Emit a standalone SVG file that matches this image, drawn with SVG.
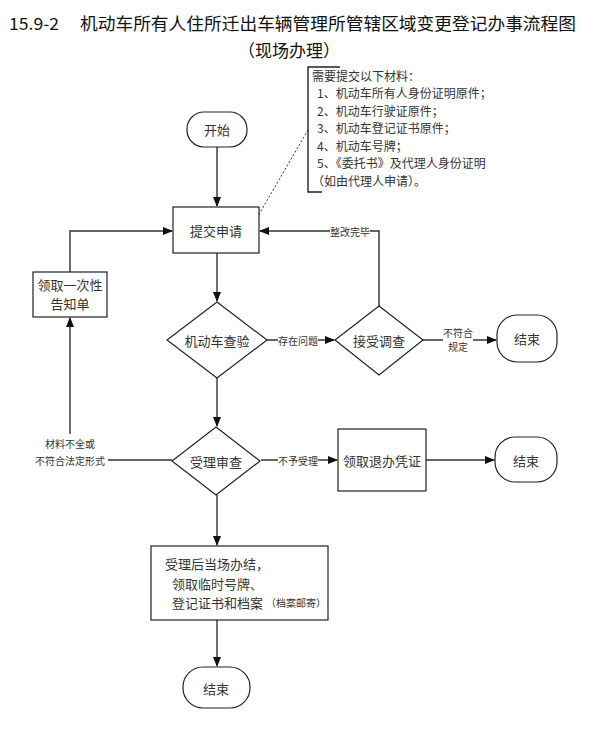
<svg xmlns="http://www.w3.org/2000/svg" width="599" height="730" viewBox="0 0 599 730">
<defs>
<marker id="ah" markerWidth="10" markerHeight="8" refX="9" refY="4" orient="auto" markerUnits="userSpaceOnUse">
<path d="M0,0 L10,4 L0,8 Z" fill="#111"/>
</marker>
<style>
.t{font-family:"Noto Sans CJK SC","Liberation Sans",sans-serif;fill:#333;font-size:13px;text-anchor:middle;dominant-baseline:central}
.s{font-size:10px}
.l{text-anchor:start}
.n{font-size:12px}
.shape{fill:#fff;stroke:#222;stroke-width:1.2}
.c{fill:none;stroke:#333;stroke-width:1.4}
.title{font-family:"Noto Sans CJK SC","Liberation Sans",sans-serif;fill:#111;font-size:17px}
.lbl{fill:#fff}
</style>
</defs>
<rect width="599" height="730" fill="#fff"/>
<g id="title">
<text class="title" x="9" y="30" textLength="50" lengthAdjust="spacingAndGlyphs">15.9-2</text>
<text class="title" x="80" y="30" textLength="496" lengthAdjust="spacingAndGlyphs">机动车所有人住所迁出车辆管理所管辖区域变更登记办事流程图</text>
<text class="title" x="289" y="57" text-anchor="middle">（现场办理）</text>
</g>
<g id="connectors">
<line class="c" x1="217" y1="147" x2="217" y2="206" marker-end="url(#ah)"/>
<line class="c" x1="217" y1="253" x2="217" y2="301" marker-end="url(#ah)"/>
<line class="c" x1="217" y1="378" x2="217" y2="426" marker-end="url(#ah)"/>
<line class="c" x1="217" y1="495" x2="217" y2="545" marker-end="url(#ah)"/>
<line class="c" x1="217" y1="620" x2="217" y2="666" marker-end="url(#ah)"/>
<polyline class="c" points="70,272 70,231 172,231" marker-end="url(#ah)"/>
<polyline class="c" points="172,460 70,460 70,318" marker-end="url(#ah)"/>
<line class="c" x1="267" y1="340" x2="334" y2="340" marker-end="url(#ah)"/>
<polyline class="c" points="379,306 379,231 260,231" marker-end="url(#ah)"/>
<line class="c" x1="423" y1="340" x2="496" y2="340" marker-end="url(#ah)"/>
<line class="c" x1="261" y1="460" x2="337" y2="460" marker-end="url(#ah)"/>
<line class="c" x1="426" y1="460" x2="494" y2="460" marker-end="url(#ah)"/>
<line x1="308" y1="130" x2="258" y2="216" stroke="#333" stroke-width="1" stroke-dasharray="2,2"/>
<rect class="lbl" x="33" y="434" width="75" height="34"/>
<text class="t s" x="70" y="443">材料不全或</text>
<text class="t s" x="70" y="460">不符合法定形式</text>
<rect class="lbl" x="278" y="333" width="40" height="14"/>
<text class="t s" x="298" y="340">存在问题</text>
<rect class="lbl" x="330" y="224" width="40" height="14"/>
<text class="t s" x="350" y="231">整改完毕</text>
<rect class="lbl" x="443" y="325" width="30" height="28"/>
<text class="t s" x="458" y="332">不符合</text>
<text class="t s" x="458" y="346">规定</text>
<rect class="lbl" x="278" y="453" width="40" height="14"/>
<text class="t s" x="298" y="460">不予受理</text>
</g>
<g id="note">
<polyline points="340,67 308,67 308,192 322,192" fill="none" stroke="#222" stroke-width="1.4"/>
<text class="t l n" x="312" y="75">需要提交以下材料：</text>
<text class="t l n" x="317" y="92.5">1、机动车所有人身份证明原件；</text>
<text class="t l n" x="317" y="110">2、机动车行驶证原件；</text>
<text class="t l n" x="317" y="127.5">3、机动车登记证书原件；</text>
<text class="t l n" x="317" y="145">4、机动车号牌；</text>
<text class="t l n" x="317" y="162.5">5、《委托书》及代理人身份证明</text>
<text class="t l n" x="312" y="180">（如由代理人申请）。</text>
</g>
<g id="start">
<rect class="shape" x="187" y="112" width="60" height="35" rx="17" ry="17"/>
<text class="t" x="217" y="129">开始</text>
</g>
<g id="submit">
<rect class="shape" x="173" y="207" width="86" height="46"/>
<text class="t" x="216" y="230">提交申请</text>
</g>
<g id="notice">
<rect class="shape" x="33" y="272" width="74" height="45"/>
<text class="t" x="70" y="284">领取一次性</text>
<text class="t" x="70" y="303">告知单</text>
</g>
<g id="inspect">
<polygon class="shape" points="217,302 267,340 217,378 167,340"/>
<text class="t" x="217" y="340">机动车查验</text>
</g>
<g id="investigate">
<polygon class="shape" points="379,306 423,340 379,375 335,340"/>
<text class="t" x="379" y="340">接受调查</text>
</g>
<g id="end1">
<rect class="shape" x="497" y="315" width="60" height="47" rx="20" ry="20"/>
<text class="t" x="527" y="338">结束</text>
</g>
<g id="review">
<polygon class="shape" points="216,427 260,461 216,495 172,461"/>
<text class="t" x="216" y="461">受理审查</text>
</g>
<g id="refund">
<rect class="shape" x="338" y="429" width="88" height="62"/>
<text class="t" x="382" y="460">领取退办凭证</text>
</g>
<g id="end2">
<rect class="shape" x="495" y="437" width="62" height="45" rx="20" ry="20"/>
<text class="t" x="526" y="460">结束</text>
</g>
<g id="done">
<rect class="shape" x="151" y="546" width="177" height="74"/>
<text class="t l" x="165" y="563">受理后当场办结，</text>
<text class="t l" x="172" y="583">领取临时号牌、</text>
<text class="t l" x="172" y="602">登记证书和档案<tspan class="s" dx="3">（档案邮寄）</tspan></text>
</g>
<g id="end3">
<rect class="shape" x="183" y="667" width="67" height="41" rx="20" ry="20"/>
<text class="t" x="216" y="688">结束</text>
</g>
</svg>
